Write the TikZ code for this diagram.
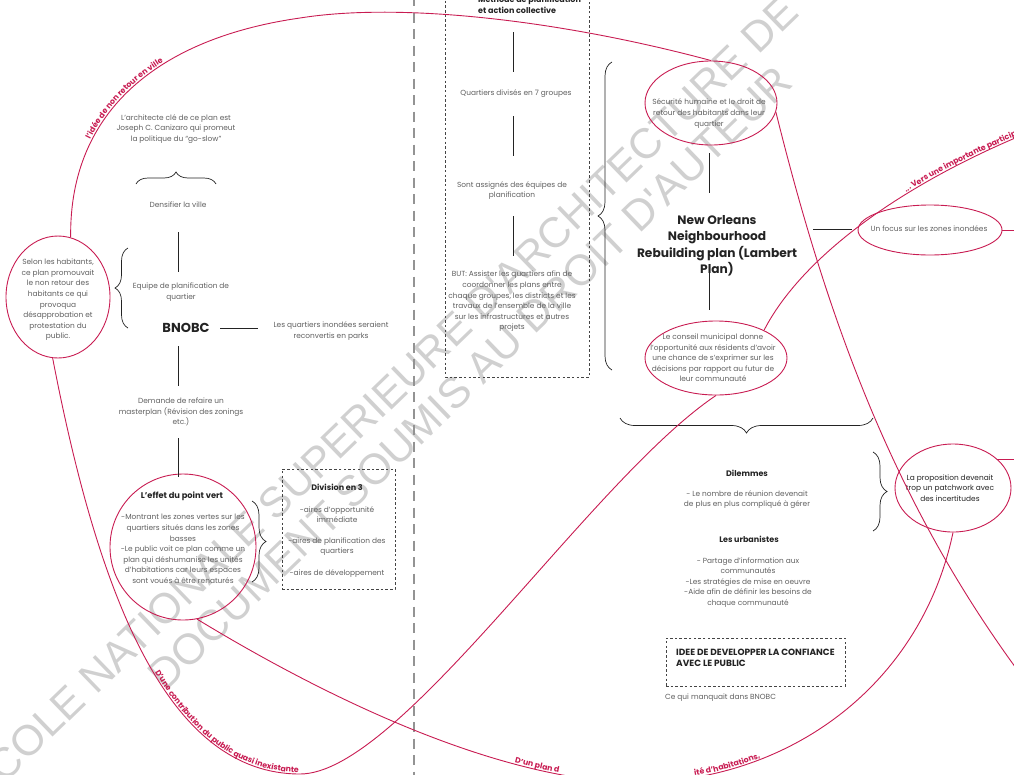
\documentclass[tikz,border=0pt]{standalone}
\usepackage{fontspec}
\setmainfont{Poppins}
\newfontfamily\wmfont{Liberation Sans}
\usetikzlibrary{decorations.pathreplacing,decorations.text,calc,shapes.geometric}
\definecolor{crim}{RGB}{200,28,82}
\definecolor{txtg}{RGB}{95,95,95}
\definecolor{dk}{RGB}{35,35,35}
\definecolor{wmc}{RGB}{208,208,208}
\newcommand\redfmt{\fontsize{7.8}{9}\selectfont\bfseries}
\tikzset{
  body/.style={font=\fontsize{7.4}{10.6}\selectfont, text=txtg, align=center, inner sep=0pt},
  hd/.style={font=\fontsize{8}{10.8}\selectfont\bfseries, text=dk, align=center, inner sep=0pt},
  conn/.style={draw=dk, line width=0.8pt},
  redl/.style={draw=crim, line width=0.9pt},
  redshape/.style={draw=crim, line width=0.9pt, ellipse, inner sep=0pt},
  brc/.style={draw=dk, line width=0.7pt, decorate, decoration={brace, amplitude=#1}},
  dbox/.style={draw=dk!85, line width=0.8pt, dash pattern=on 2.5pt off 2.2pt, inner sep=0pt},
  wmtext/.style={font=\wmfont\fontsize{#1}{#1}\selectfont, text=wmc, inner sep=0pt, rotate=44},
  redlab/.style 2 args={postaction={decorate, decoration={text along path, text color=crim, raise=1.5pt, text={|\redfmt|#2}, text align={#1}}}},
}
\begin{document}
\begin{tikzpicture}[x=1pt,y=-1pt]
\useasboundingbox (0,0) rectangle (1014,774);
\clip (0,0) rectangle (1014,774);
% watermark
\node[wmtext=42.5] (wm1) at (380,396) {ÉCOLE NATIONALE SUPERIEURE D'ARCHITECTURE DE};
\node[wmtext=43] (wm2) at (470,378) {DOCUMENT SOUMIS AU DROIT D'AUTEUR};
% separator
\draw[draw=gray!85, line width=1.6pt, dash pattern=on 10pt off 6.5pt] (414,-4) -- (414,780);
% left column
\node[redshape, minimum width=104pt, minimum height=122pt] (hab) at (58,297) {};
\node[body] (habt) at (58,300) {Selon les habitants,\\ce plan promouvait\\le non retour des\\habitants ce qui\\provoqua\\désapprobation et\\protestation du\\public.};
\node[body] (arch) at (176,129) {L'architecte clé de ce plan est\\Joseph C. Canizaro qui promeut\\la politique du “go-slow”};
\draw[brc=12pt] (136,184) -- (216,184);
\node[body] (dens) at (178,205) {Densifier la ville};
\node[body] (equipe) at (181,292) {Equipe de planification de\\quartier};
\draw[brc=13pt] (128,328) -- (128,248);
\node[font=\fontsize{13}{15}\selectfont\bfseries, text=dk, inner sep=0pt] (bnobc) at (186,328) {BNOBC};
\node[body] (parks) at (331,331) {Les quartiers inondées seraient\\reconvertis en parks};
\node[body] (demande) at (181,412) {Demande de refaire un\\masterplan (Révision des zonings\\etc.)};
\node[draw=crim, line width=0.9pt, circle, minimum size=146pt, inner sep=0pt] (effet) at (183,547) {};
\node[hd, font=\fontsize{8.3}{10}\selectfont\bfseries] (effett) at (182,496) {L'effet du point vert};
\node[body] (effetb) at (183,549) {-Montrant les zones vertes sur les\\quartiers situés dans les zones\\basses\\-Le public voit ce plan comme un\\plan qui déshumanise les unités\\d'habitations car leurs espaces\\sont voués à être renaturés};
\draw[brc=14pt] (252,501) -- (252,582);
\node[dbox, minimum width=113pt, minimum height=120pt] (div) at (338.5,529) {};
\node[hd] (divt) at (337,487) {Division en 3};
\node[body] (d1) at (337,514.5) {-aires d'opportunité\\immédiate};
\node[body] (d2) at (337,546.5) {-aires de planification des\\quartiers};
\node[body] (d3) at (337,574) {-aires de développement};
\draw[conn] ($(dens)+(0,27)$) -- ($(dens)+(0,67)$);
\draw[conn] ($(bnobc)+(34,0)$) -- ($(bnobc)+(72,0)$);
\draw[conn] ($(bnobc)+(-8,18)$) -- ($(bnobc)+(-8,58)$);
\draw[conn] ($(demande)+(-3,26)$) -- ($(demande)+(-3,65)$);
% methode column
\node[dbox, minimum width=144pt, minimum height=392pt] (meth) at (517,181) {};
\node[hd, align=left, anchor=west] (metht) at (478,5) {Méthode de planification\\et action collective};
\node[body] (q7) at (516,94) {Quartiers divisés en 7 groupes};
\node[body] (assign) at (512,190.5) {Sont assignés des équipes de\\planification};
\node[body] (but) at (512,301.5) {BUT: Assister les quartiers afin de\\coordonner les plans entre\\chaque groupes, les districts et les\\travaux de l'ensemble de la ville\\sur les infrastructures et autres\\projets};
\draw[conn] ($(q7)+(-3,-62)$) -- ($(q7)+(-3,-22)$);
\draw[conn] ($(q7)+(-3,22)$) -- ($(q7)+(-3,62)$);
\draw[conn] ($(assign)+(1,25.5)$) -- ($(assign)+(1,65.5)$);
\draw[brc=14pt] (612,370) -- (612,62);
% right column
\node[redshape, minimum width=132pt, minimum height=84pt] (secu) at (711,103) {};
\node[body] (secut) at (709,113.5) {Sécurité humaine et le droit de\\retour des habitants dans leur\\quartier};
\node[font=\fontsize{12.2}{16.5}\selectfont\bfseries, text=dk, align=center, inner sep=0pt] (lambert) at (717,246) {New Orleans\\Neighbourhood\\Rebuilding plan (Lambert\\Plan)};
\draw[conn] ($(lambert)+(-8,-93)$) -- ($(lambert)+(-8,-53)$);
\draw[conn] ($(lambert)+(-8,22)$) -- ($(lambert)+(-8,64)$);
\node[redshape, minimum width=142pt, minimum height=74pt] (conseil) at (716,358) {};
\node[body] (conseilt) at (713,358) {Le conseil municipal donne\\l'opportunité aux résidents d'avoir\\une chance de s'exprimer sur les\\décisions par rapport au futur de\\leur communauté};
\node[redshape, minimum width=144pt, minimum height=50pt] (focus) at (930,230) {};
\node[body] (focust) at (929,229) {Un focus sur les zones inondées};
\draw[conn] ($(focus.west)+(-6,-1)$) -- ($(focus.west)+(-45,-1)$);
\draw[brc=15pt] (873,418) -- (620,418);
\node[hd] (dil) at (747,473) {Dilemmes};
\node[body] (dilb) at (747,499.5) {- Le nombre de réunion devenait\\de plus en plus compliqué à gérer};
\draw[brc=14pt] (873,452) -- (873,531);
\node[redshape, minimum width=116pt, minimum height=88pt] (prop) at (953,488) {};
\node[body, text=dk] (propt) at (950,488) {La proposition devenait\\trop un patchwork avec\\des incertitudes};
\node[hd] (urb) at (749,539) {Les urbanistes};
\node[body] (urbb) at (748,582.5) {- Partage d'information aux\\communautés\\-Les stratégies de mise en oeuvre\\-Aide afin de définir les besoins de\\chaque communauté};
\node[dbox, minimum width=179pt, minimum height=48pt] (idee) at (755.5,662) {};
\node[hd, font=\fontsize{9}{11}\selectfont\bfseries, align=left, anchor=west] (ideet) at (676,657.5) {IDEE DE DEVELOPPER LA CONFIANCE\\AVEC LE PUBLIC};
\node[body, anchor=west] (manq) at (665,698) {Ce qui manquait dans BNOBC};
% red connectors
\draw[redl, redlab={left indent=100pt}{l'idée de non retour en ville}] (hab.78) .. controls (69,110) and (160,38) .. (300,18) .. controls (400,2) and (560,20) .. (secu.north);
\draw[redl, redlab={left indent=332pt}{D'une contribution du public quasi inexistante}] (hab.265) .. controls (100,604) and (170,774) .. (300,774) .. controls (400,774) and (590,480) .. (conseil.south);
\draw[redl] (secu.-8) .. controls (830,330) and (900,520) .. (1040,700);
\draw[redl, redlab={left indent=200pt}{... Vers une importante participation}] (conseil.30) .. controls (800,260) and (900,180) .. (1060,120);
\draw[redl, redlab={left indent=350pt}{D'un plan d}, redlab={right, right indent=310pt}{ité d'habitations,}] (effet.281) .. controls (330,700) and (490,775) .. (620,782) .. controls (780,789) and (920,690) .. (prop.south);
\draw[redl] (focus.east) -- ++(30,0);
\draw[redl] (prop.33) -- ++(40,0);
\end{tikzpicture}
\end{document}
